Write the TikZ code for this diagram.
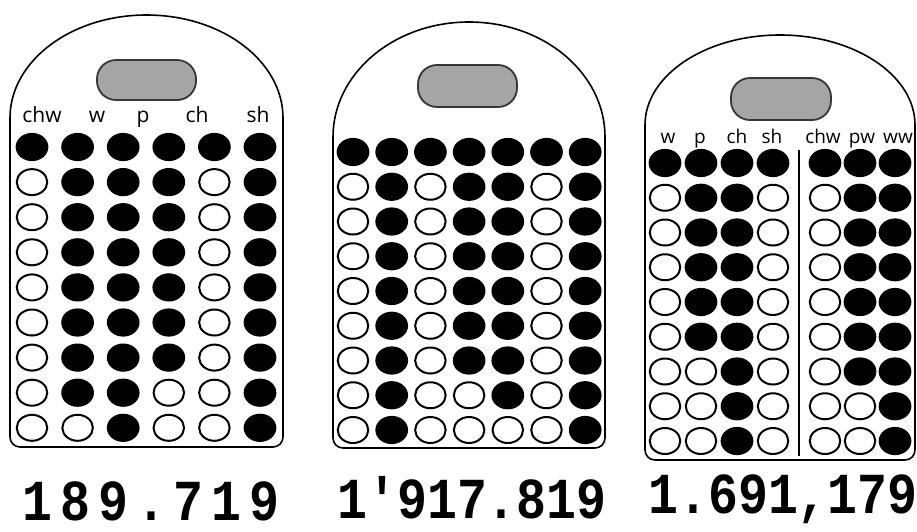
\documentclass[tikz,border=0pt]{standalone}
\usepackage{fontspec}
\usetikzlibrary{shapes.geometric}
\newfontfamily\lblfont{Open Sans}
\newfontfamily\numfont[FakeStretch=0.86]{Liberation Mono}
\definecolor{ovalfill}{RGB}{165,165,165}
\definecolor{ovalline}{RGB}{55,55,55}
\tikzset{
 tag/.style={draw=black, line width=1.6pt},
 oval/.style={draw=ovalline, fill=ovalfill, line width=1.8pt, rounded corners=19pt, minimum width=99pt, minimum height=40pt, inner sep=0},
 dfill/.style={ellipse, draw=black, fill=black, line width=1.2pt, minimum width=31.5pt, minimum height=27pt, inner sep=0},
 dopen/.style={ellipse, draw=black, fill=white, line width=2pt, minimum width=30.5pt, minimum height=26pt, inner sep=0},
 lbl/.style={font=\lblfont\fontsize{21}{21}\selectfont, anchor=base, inner sep=0},
 lblsm/.style={font=\lblfont\fontsize{19}{19}\selectfont, anchor=base, inner sep=0},
 num/.style={font=\numfont\bfseries\fontsize{58}{58}\selectfont, anchor=base, inner sep=0},
 divider/.style={draw=black, line width=1.6pt},
}
\begin{document}
\begin{tikzpicture}[x=1pt,y=-1pt]
\useasboundingbox (0,0) rectangle (917,531);
\fill[white] (0,0) rectangle (917,531);

% ---------- tag outlines ----------
\draw[tag] (10,118) arc[start angle=180,end angle=0,x radius=136.5pt,y radius=103pt]
  -- (283,437) arc[start angle=0,end angle=-90,radius=10pt]
  -- (20,447) arc[start angle=270,end angle=180,radius=10pt] -- cycle;
\draw[tag] (333,137) arc[start angle=180,end angle=0,x radius=136pt,y radius=115pt]
  -- (605,438) arc[start angle=0,end angle=-90,radius=10pt]
  -- (343,448) arc[start angle=270,end angle=180,radius=10pt] -- cycle;
\draw[tag] (645,125) arc[start angle=180,end angle=0,x radius=135pt,y radius=90pt]
  -- (915,450) arc[start angle=0,end angle=-90,radius=10pt]
  -- (655,460) arc[start angle=270,end angle=180,radius=10pt] -- cycle;

% ---------- ovals ----------
\node[oval] (o1) at (146.5,80) {};
\node[oval, minimum height=42pt] (o2) at (467.5,86) {};
\node[oval, minimum height=42pt, minimum width=100pt] (o3) at (781,99) {};

% ---------- labels ----------
\node[lbl] (l1a) at (42,122) {chw};
\node[lbl] (l1b) at (97,122) {w};
\node[lbl] (l1c) at (143,122) {p};
\node[lbl] (l1d) at (197,122) {ch};
\node[lbl] (l1e) at (258,122) {sh};

\node[lblsm] (l3a) at (668,143) {w};
\node[lblsm] (l3b) at (700,143) {p};
\node[lblsm] (l3c) at (737,143) {ch};
\node[lblsm] (l3d) at (772,143) {sh};
\node[lblsm] (l3e) at (823,143) {chw};
\node[lblsm] (l3f) at (862,143) {pw};
\node[lblsm] (l3g) at (898,143) {ww};

% ---------- dots tag 1 ----------
\foreach \row [count=\r from 0] in {{1,1,1,1,1,1},{0,1,1,1,0,1},{0,1,1,1,0,1},{0,1,1,1,0,1},{0,1,1,1,0,1},{0,1,1,1,0,1},{0,1,1,1,0,1},{0,1,1,0,0,1},{0,0,1,0,0,1}}{
  \foreach \v [count=\c from 0] in \row {
    \ifnum\v=1
      \node[dfill] (a-\r-\c) at ({32+45.6*\c},{147+35.1*\r}) {};
    \else
      \node[dopen] (a-\r-\c) at ({32+45.6*\c},{147+35.1*\r}) {};
    \fi
  }
}

% ---------- dots tag 2 ----------
\foreach \row [count=\r from 0] in {{1,1,1,1,1,1,1},{0,1,0,1,1,0,1},{0,1,0,1,1,0,1},{0,1,0,1,1,0,1},{0,1,0,1,1,0,1},{0,1,0,1,1,0,1},{0,1,0,1,1,0,1},{0,1,0,0,1,0,1},{0,1,0,0,0,0,1}}{
  \foreach \v [count=\c from 0] in \row {
    \ifnum\v=1
      \node[dfill] (b-\r-\c) at ({353+38.7*\c},{152+34.75*\r}) {};
    \else
      \node[dopen] (b-\r-\c) at ({353+38.7*\c},{152+34.75*\r}) {};
    \fi
  }
}

% ---------- dots tag 3 ----------
\foreach \row [count=\r from 0] in {{1,1,1,1,1,1,1},{0,1,1,0,0,1,1},{0,1,1,0,0,1,1},{0,1,1,0,0,1,1},{0,1,1,0,0,1,1},{0,1,1,0,0,1,1},{0,0,1,0,0,1,1},{0,0,1,0,0,0,1},{0,0,1,0,0,0,1}}{
  \foreach \v [count=\c from 0] in \row {
    \pgfmathsetmacro\xx{\c<4 ? 665+36*\c : 825+35*(\c-4)}
    \ifnum\v=1
      \node[dfill] (c-\r-\c) at (\xx,{163+34.75*\r}) {};
    \else
      \node[dopen] (c-\r-\c) at (\xx,{163+34.75*\r}) {};
    \fi
  }
}

% divider
\coordinate (dv1) at (799,150);
\coordinate (dv2) at (799,456);
\draw[divider] (dv1) -- (dv2);

% ---------- numbers ----------
\node[num] (n1) at (151,520) {1\kern8pt 8\kern8pt 9\kern8pt .\kern8pt 7\kern8pt 1\kern8pt 9};
\node[num] (n2) at (472,518) {1'917.819};
\node[num] (n3) at (783,513) {1.691,179};
\end{tikzpicture}
\end{document}
